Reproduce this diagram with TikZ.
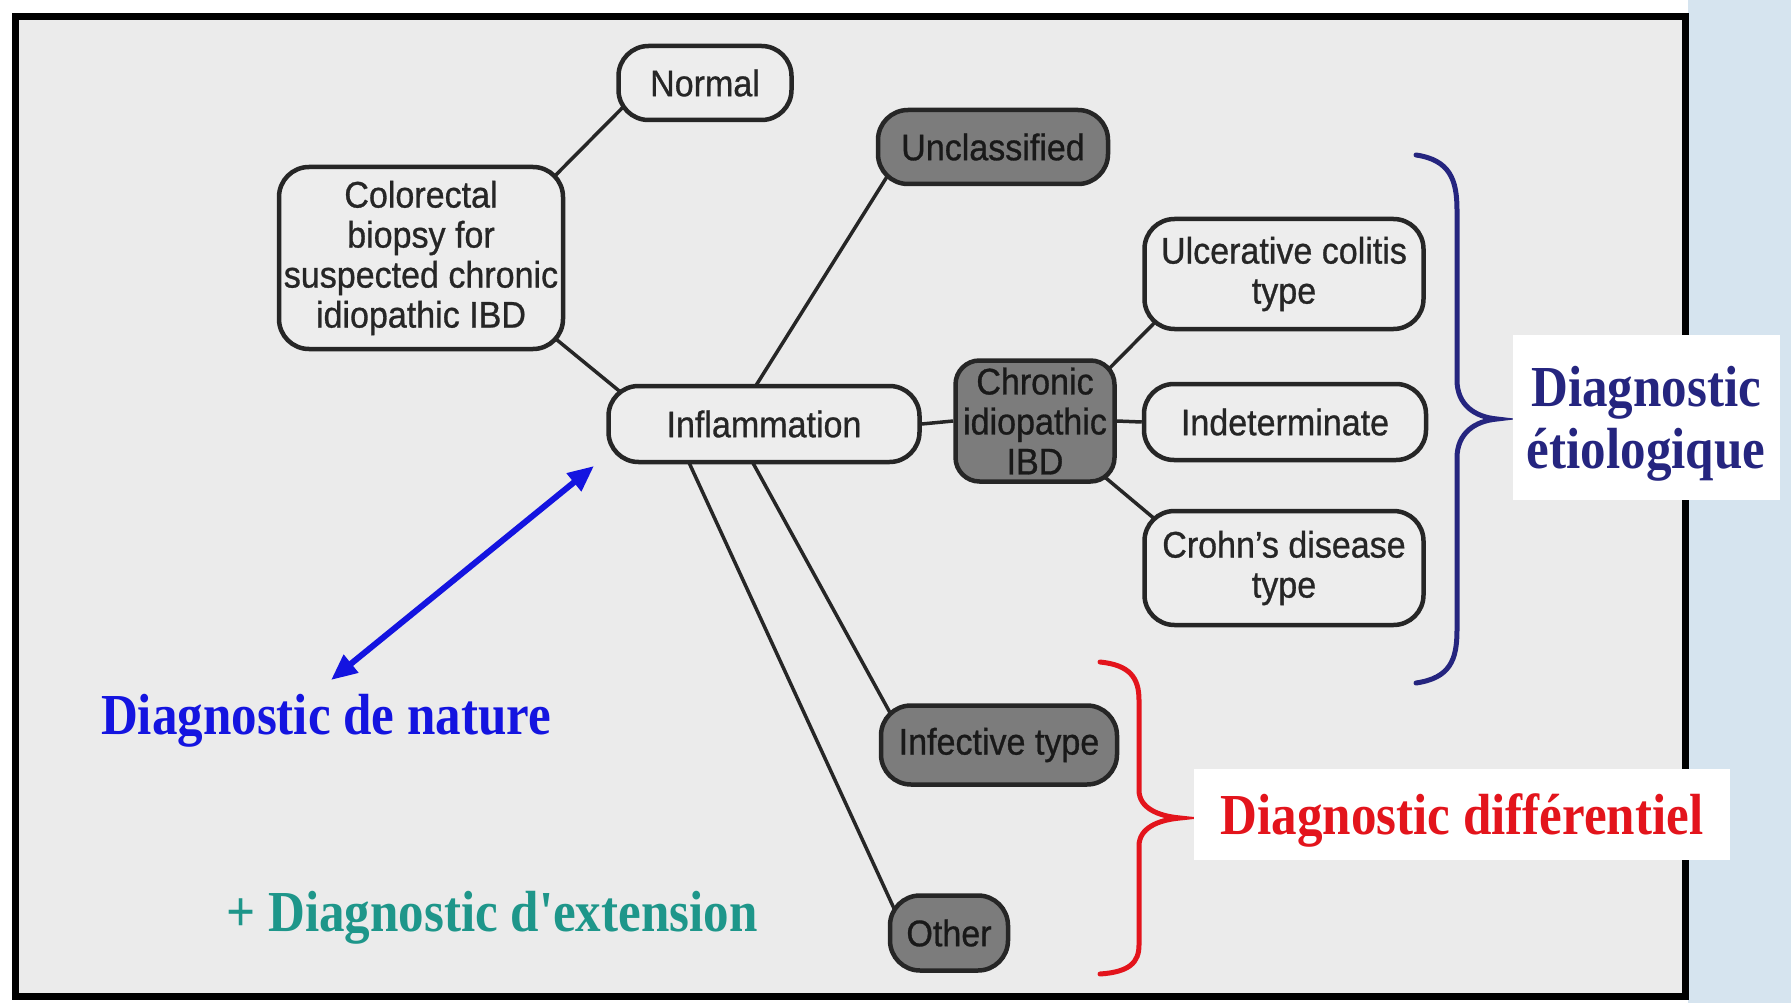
\documentclass[tikz,border=0pt]{standalone}
\usepackage{fontspec}
\usepackage{tikz}
\usetikzlibrary{arrows.meta, positioning, backgrounds}

\newfontfamily\boxfont[FakeStretch=0.92, FakeBold=0.8]{Liberation Sans}
\newfontfamily\notefont[FakeStretch=0.88]{Liberation Serif}

\definecolor{panelgray}{HTML}{EBEBEB}
\definecolor{boxfill}{HTML}{EDEDED}
\definecolor{darkfill}{HTML}{7C7C7C}
\definecolor{inkgray}{HTML}{262626}
\definecolor{slideblue}{HTML}{D6E4EF}
\definecolor{natureblue}{HTML}{1414E0}
\definecolor{etionavy}{HTML}{25257F}
\definecolor{diffred}{HTML}{E3141C}
\definecolor{extteal}{HTML}{1E968A}

\tikzset{
    dims/.style 2 args={minimum width=#1pt, minimum height=#2pt}
}

\begin{document}
\begin{tikzpicture}[
    x=1pt, y=-1pt,
    box/.style={rectangle, rounded corners=30pt, draw=inkgray, line width=4.5pt,
                fill=boxfill, text=inkgray, inner sep=0pt, align=center,
                font=\boxfont\fontsize{37}{40}\selectfont},
    darkbox/.style={box, fill=darkfill, text=black!90},
    link/.style={line width=3.5pt, draw=inkgray},
    note/.style={font=\notefont\bfseries\fontsize{58}{62}\selectfont, inner sep=0pt},
    notebox/.style={note, fill=white, align=center, text depth=0pt},
    bracket/.style={line width=5pt, line cap=round},
    twoway/.style={{Triangle[length=26pt,width=22pt]}-{Triangle[length=26pt,width=22pt]},
                   line width=6pt, draw=natureblue}
]
\useasboundingbox (0,0) rectangle (1791,1003);

%% Slide and panel
\begin{scope}[on background layer]
\fill[white] (0,0) rectangle (1791,1003);
\fill[slideblue] (1688,0) rectangle (1791,1003);
\draw[line width=7pt, fill=panelgray] (15,17) rectangle (1685,996);
\end{scope}

%% Biopsy and first split
\node[box, dims={173}{74}] (normal) at (705,83) {Normal};
\node[box, dims={284}{182}] (biopsy) at (421,258) {Colorectal\\biopsy for\\suspected chronic\\idiopathic IBD};
\node[box, dims={311}{76}] (infl) at (764,424) {Inflammation};

%% Inflammation types
\node[darkbox, dims={230}{74}] (unclass) at (993,147) {Unclassified};
\node[darkbox, dims={159}{121}, rounded corners=24pt] (cibd) at (1035,421) {Chronic\\idiopathic\\IBD};
\node[darkbox, dims={236}{79}] (infect) at (999,745) {Infective type};
\node[darkbox, dims={118}{75}] (other) at (949,933) {Other};

%% Chronic IBD subtypes
\node[box, dims={279}{110}] (uc) at (1284,274) {Ulcerative colitis\\type};
\node[box, dims={282}{76}] (indet) at (1285,422) {Indeterminate};
\node[box, dims={279}{114}] (crohn) at (1284,568) {Crohn’s disease\\type};

%% Links
\begin{scope}[on background layer]
\draw[link] ([xshift=114pt,yshift=62pt]biopsy.center) -- ([xshift=-60pt,yshift=-2pt]normal.center);
\draw[link] ([xshift=119pt,yshift=-68pt]biopsy.center) -- ([xshift=-124pt,yshift=16pt]infl.center);
\draw[link] ([xshift=-19pt,yshift=21pt]infl.center) -- ([xshift=-88pt,yshift=-1pt]unclass.center);
\draw[link] (infl.east) -- (cibd.west);
\draw[link] ([xshift=-22pt,yshift=-19pt]infl.center) -- ([xshift=-94pt,yshift=5pt]infect.center);
\draw[link] ([xshift=-84pt,yshift=-19pt]infl.center) -- ([xshift=-46pt,yshift=5pt]other.center);
\draw[link] ([xshift=55pt,yshift=33pt]cibd.center) -- ([xshift=-109pt,yshift=-28pt]uc.center);
\draw[link] (cibd.east) -- (indet.west);
\draw[link] ([xshift=53pt,yshift=-42pt]cibd.center) -- ([xshift=-109pt,yshift=32pt]crohn.center);
\end{scope}

%% Annotations
\node[note, text=natureblue, anchor=base] (nature) at (326,734) {Diagnostic de nature};
\node[note, text=extteal, anchor=base] (extension) at (492,931) {+ Diagnostic d'extension};
\coordinate (natureTip) at (331,680);
\coordinate (inflTip) at (594,466);
\draw[twoway] (natureTip) -- (inflTip);

% braces
\draw[bracket, draw=etionavy] (1416,155) .. controls (1450,160) and (1457,180) .. (1457,210)
    -- (1457,380) .. controls (1457,405) and (1475,417) .. (1497,419)
    .. controls (1475,421) and (1457,433) .. (1457,458)
    -- (1457,630) .. controls (1457,660) and (1450,678) .. (1416,683);
\node[notebox, text=etionavy, dims={267}{165}] (etio) at (1646,417) {Diagnostic\\étiologique};

\draw[bracket, draw=diffred] (1100,662) .. controls (1130,665) and (1139,678) .. (1139,700)
    -- (1139,790) .. controls (1139,808) and (1158,816) .. (1180,818)
    .. controls (1158,820) and (1139,828) .. (1139,846)
    -- (1139,945) .. controls (1139,962) and (1130,972) .. (1100,974);
\node[notebox, text=diffred, dims={536}{91}] (diff) at (1462,814) {Diagnostic différentiel};

\end{tikzpicture}
\end{document}
